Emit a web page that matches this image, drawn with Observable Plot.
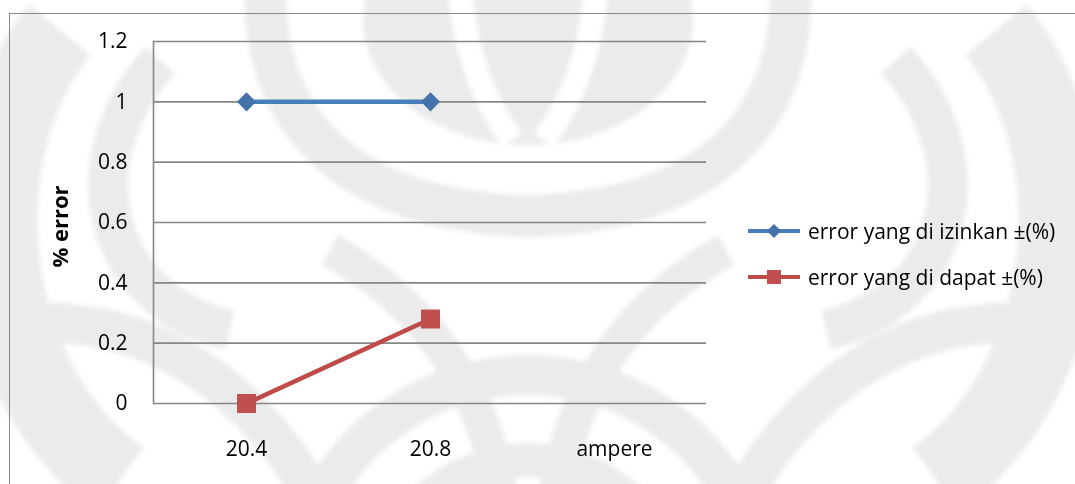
<!DOCTYPE html>
<html>
<head>
<meta charset="utf-8">
<script src="https://cdn.jsdelivr.net/npm/d3@7"></script>
<script src="https://cdn.jsdelivr.net/npm/@observablehq/plot@0.6"></script>
<style>
  html, body { margin: 0; padding: 0; background: #fff; }
  #wrap { position: relative; width: 1075px; height: 484px; overflow: hidden; font-family: "Open Sans", sans-serif; }
  #emblem { position: absolute; left: 0; top: 0; }
  #border { position: absolute; left: 9px; top: 13px; width: 1200px; height: 600px; border: 1px solid #8a8a8a; box-sizing: border-box; }
  #chart { position: absolute; left: 0; top: 0; }
  #legend { position: absolute; left: 748px; top: 217px; font-size: 21px; color: #000; }
  #legend .row { display: flex; align-items: center; height: 28px; margin-bottom: 18px; white-space: nowrap; }
  #legend svg { margin-right: 4px; flex: none; }
</style>
</head>
<body>
<div id="wrap">
  <svg id="emblem" width="1075" height="484"></svg>
  <div id="border"></div>
  <div id="chart"></div>
  <div id="legend"></div>
</div>
<script>
// Current (ampere) categories on the x axis; the last one only carries the axis name
const categories = ["20.4", "20.8", "ampere"];
// Permitted error, in percent
const allowedError = [1, 1];
// Measured error, in percent
const measuredError = [0, 0.28];
const seriesNames = ["error yang di izinkan ±(%)", "error yang di dapat ±(%)"];
const seriesColors = ["#4A7EBB", "#BE4B48"];
const markerColors = ["#4472AB", "#C0504D"];
const yTicks = [0, 0.2, 0.4, 0.6, 0.8, 1, 1.2];

// Faint page emblem behind the chart (left half drawn, then mirrored)
{
  const shade = "#ebebeb";
  const axisX = 528;
  const half = `
    <path d="M265,-10 C265,150 380,212 ${axisX},216" stroke="${shade}" stroke-width="42" fill="none"/>
    <path d="M60,30 C-40,150 -20,380 120,480" stroke="${shade}" stroke-width="80" fill="none"/>
    <path d="M160,60 C70,160 100,300 230,330" stroke="${shade}" stroke-width="40" fill="none"/>
    <path d="M-10,330 C120,300 240,370 310,490" stroke="${shade}" stroke-width="40" fill="none"/>
    <path d="M330,250 C420,300 480,380 500,490" stroke="${shade}" stroke-width="34" fill="none"/>`;
  const inner = `
    <path d="M460,-10 Q468,80 512,140" stroke="#fff" stroke-width="24" fill="none"/>`;
  document.getElementById("emblem").innerHTML = `
    <defs><filter id="soft"><feGaussianBlur stdDeviation="2.5"/></filter></defs>
    <g filter="url(#soft)">
      <ellipse cx="${axisX}" cy="20" rx="165" ry="125" fill="${shade}"/>
      ${inner}
      <g transform="translate(${2 * axisX},0) scale(-1,1)">${inner}</g>
      ${half}
      <g transform="translate(${2 * axisX},0) scale(-1,1)">${half}</g>
      <circle cx="${axisX}" cy="610" r="235" stroke="${shade}" stroke-width="40" fill="none"/>
      <circle cx="${axisX}" cy="610" r="150" stroke="${shade}" stroke-width="34" fill="none"/>
    </g>`;
}

const rows = [];
allowedError.forEach((v, i) => rows.push({current: categories[i], value: v, series: seriesNames[0]}));
measuredError.forEach((v, i) => rows.push({current: categories[i], value: v, series: seriesNames[1]}));
const allowedRows = rows.filter(d => d.series === seriesNames[0]);
const measuredRows = rows.filter(d => d.series === seriesNames[1]);

const chart = Plot.plot({
  width: 1075,
  height: 484,
  marginLeft: 153,
  marginTop: 41,
  marginBottom: 81,
  marginRight: 369,
  style: {fontFamily: "Open Sans, sans-serif", fontSize: "21px", color: "#000", background: "transparent"},
  x: {type: "point", domain: categories, padding: 0.5},
  y: {domain: [0, 1.2]},
  marks: [
    Plot.ruleY(yTicks, {stroke: "#868686", strokeWidth: 1.6}),
    Plot.frame({anchor: "left", stroke: "#868686", strokeWidth: 1.6}),
    Plot.axisY(yTicks, {tickSize: 0, tickPadding: 26, tickFormat: d => String(d), label: null, fontSize: 21}),
    Plot.axisX({tickSize: 0, tickPadding: 38, label: null, fontSize: 21}),
    Plot.text(["% error"], {frameAnchor: "left", textAnchor: "middle", lineAnchor: "middle", rotate: -90, dx: -93, dy: 4, fontWeight: "bold", fontSize: 22, letterSpacing: "0.5px"}),
    Plot.line(allowedRows, {x: "current", y: "value", stroke: seriesColors[0], strokeWidth: 4.5}),
    Plot.line(measuredRows, {x: "current", y: "value", stroke: seriesColors[1], strokeWidth: 4.5}),
    Plot.dot(allowedRows, {x: "current", y: "value", symbol: "diamond2", r: 8.6, fill: markerColors[0], stroke: "none"}),
    Plot.dot(measuredRows, {x: "current", y: "value", symbol: "square", r: 10.7, fill: markerColors[1], stroke: "none"})
  ]
});
document.getElementById("chart").appendChild(chart);

// Legend entries: line sample with marker, then series name
const legend = document.getElementById("legend");
seriesNames.forEach((name, i) => {
  const row = document.createElement("div");
  row.className = "row";
  const ns = "http://www.w3.org/2000/svg";
  const svg = document.createElementNS(ns, "svg");
  svg.setAttribute("width", 56);
  svg.setAttribute("height", 22);
  const line = document.createElementNS(ns, "line");
  line.setAttribute("x1", 0); line.setAttribute("x2", 52);
  line.setAttribute("y1", 11); line.setAttribute("y2", 11);
  line.setAttribute("stroke", seriesColors[i]);
  line.setAttribute("stroke-width", 4);
  svg.appendChild(line);
  const marker = document.createElementNS(ns, "path");
  marker.setAttribute("transform", "translate(26,11)");
  marker.setAttribute("d", i === 0 ? "M0,-7L7,0L0,7L-7,0Z" : "M-7,-7H7V7H-7Z");
  marker.setAttribute("fill", markerColors[i]);
  svg.appendChild(marker);
  row.appendChild(svg);
  const label = document.createElement("span");
  label.textContent = name;
  row.appendChild(label);
  legend.appendChild(row);
});
</script>
</body>
</html>
